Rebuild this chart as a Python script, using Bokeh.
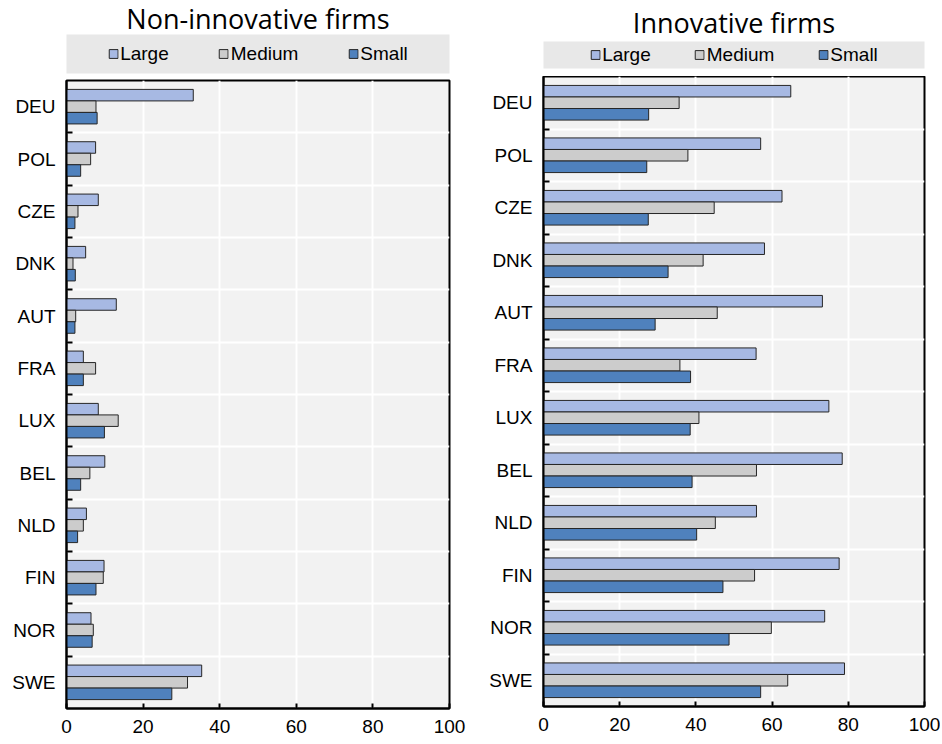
from bokeh.plotting import figure
from bokeh.models import FixedTicker, Range1d, Legend, LegendItem, ColumnDataSource
from bokeh.layouts import row, column
from bokeh.embed import file_html
from bokeh.resources import INLINE
from bokeh.transform import dodge

# ---------------- data ----------------
countries = ["DEU", "POL", "CZE", "DNK", "AUT", "FRA", "LUX", "BEL", "NLD", "FIN", "NOR", "SWE"]
sizes = ["Large", "Medium", "Small"]

non_large = [33.1, 7.6, 8.3, 5.0, 13.0, 4.4, 8.3, 10.0, 5.2, 9.8, 6.4, 35.3]
non_medium = [7.7, 6.3, 3.0, 1.7, 2.4, 7.6, 13.5, 6.1, 4.4, 9.6, 7.0, 31.6]
non_small = [8.0, 3.7, 2.2, 2.3, 2.2, 4.4, 9.9, 3.7, 2.9, 7.7, 6.7, 27.5]

inn_large = [64.9, 57.0, 62.6, 58.0, 73.2, 55.8, 74.9, 78.4, 55.9, 77.6, 73.8, 79.0]
inn_medium = [35.6, 37.9, 44.8, 41.9, 45.6, 35.8, 40.8, 55.9, 45.1, 55.4, 59.8, 64.1]
inn_small = [27.6, 27.1, 27.5, 32.7, 29.3, 38.6, 38.5, 39.0, 40.2, 47.1, 48.7, 57.0]

x_ticks = [0, 20, 40, 60, 80, 100]

# ---------------- styles ----------------
COLORS = {"Large": "#A7B9E3", "Medium": "#CCCCCC", "Small": "#4F81BD"}
OFFSETS = {"Large": -0.22, "Medium": 0.0, "Small": 0.22}
BAR_H = 0.22
EDGE = "#262626"
LABEL_FONT = "Liberation Sans"
LABEL_SIZE = "19px"
TITLE_FONT = "Open Sans"
NAN = float("nan")


def main_fig(large, medium, small, width, height, bl, br, bt, bb):
    n = len(countries)
    pos = list(range(n))
    src = ColumnDataSource(dict(pos=pos, country=countries,
                                Large=large, Medium=medium, Small=small))
    p = figure(width=width, height=height,
               x_range=Range1d(0, 100), y_range=Range1d(n - 0.5, -0.5),
               toolbar_location=None, output_backend="svg",
               min_border_left=bl, min_border_right=br,
               min_border_top=bt, min_border_bottom=bb,
               background_fill_color="#F2F2F2", border_fill_color="white",
               outline_line_color="black", outline_line_width=2)
    for s in sizes:
        p.hbar(y=dodge("pos", OFFSETS[s]), left=0, right=s, height=BAR_H,
               fill_color=COLORS[s], line_color=EDGE, line_width=1, source=src)

    # x axis
    p.xaxis.ticker = FixedTicker(ticks=x_ticks)
    p.xaxis.major_tick_in = 5
    p.xaxis.major_tick_out = 0
    p.xaxis.major_tick_line_color = "black"
    p.xaxis.major_tick_line_width = 2
    p.xaxis.minor_tick_line_color = None
    p.xaxis.axis_line_color = "black"
    p.xaxis.axis_line_width = 2
    p.xaxis.major_label_standoff = 11

    # y axis
    boundaries = [i + 0.5 for i in range(n - 1)]
    p.yaxis.ticker = FixedTicker(ticks=pos, minor_ticks=boundaries)
    p.yaxis.major_label_overrides = {i: c for i, c in enumerate(countries)}
    p.yaxis.major_tick_in = 0
    p.yaxis.major_tick_out = 0
    p.yaxis.minor_tick_in = 6
    p.yaxis.minor_tick_out = 0
    p.yaxis.minor_tick_line_color = "black"
    p.yaxis.minor_tick_line_width = 2
    p.yaxis.axis_line_color = "black"
    p.yaxis.axis_line_width = 2
    p.yaxis.major_label_standoff = 11

    for ax in (p.xaxis, p.yaxis):
        ax.major_label_text_font = LABEL_FONT
        ax.major_label_text_font_size = LABEL_SIZE
        ax.major_label_text_color = "black"

    # grids
    p.xgrid.ticker = FixedTicker(ticks=x_ticks)
    p.ygrid.ticker = FixedTicker(ticks=boundaries)
    p.grid.grid_line_color = "white"
    p.grid.grid_line_width = 2
    return p


def legend_fig(title, width, height, bl, br, bt, bb, title_offset, title_standoff, spacing):
    p = figure(width=width, height=height, x_range=(0, 1), y_range=(0, 1),
               toolbar_location=None, output_backend="svg",
               x_axis_location=None, y_axis_location=None,
               min_border_left=bl, min_border_right=br,
               min_border_top=bt, min_border_bottom=bb,
               background_fill_color="#E8E8E8", border_fill_color="white",
               outline_line_color=None, title=title)
    p.grid.visible = False
    p.title.text_font = TITLE_FONT
    p.title.text_font_size = "27px"
    p.title.text_font_style = "normal"
    p.title.text_color = "black"
    p.title.align = "center"
    p.title.standoff = title_standoff
    p.title.offset = title_offset
    items = []
    for s in sizes:
        # legend-only renderers (nothing drawn in the band itself)
        r = p.hbar(y=[NAN], right=[NAN], left=0, height=0.5,
                   fill_color=COLORS[s], line_color=EDGE, line_width=1)
        items.append(LegendItem(label=s, renderers=[r]))
    leg = Legend(items=items, orientation="horizontal", location="center",
                 background_fill_alpha=0, border_line_color=None,
                 padding=0, margin=0, spacing=spacing, label_width=0,
                 glyph_width=11, glyph_height=11, label_standoff=2,
                 label_text_font=LABEL_FONT, label_text_font_size=LABEL_SIZE,
                 label_text_color="black")
    p.add_layout(leg, "center")
    return p


legL = legend_fig("Non-innovative firms", 470, 76, 60, 15, 33, 3, 0, -5, 49)
mainL = main_fig(non_large, non_medium, non_small, 470, 666, 66, 21, 4, 34)
legR = legend_fig("Innovative firms", 470, 76, 71, 15, 40, 8, -13, 2, 43)
mainR = main_fig(inn_large, inn_medium, inn_small, 470, 666, 73, 16, 0, 36)

layout = row(column(legL, mainL), column(legR, mainR))

with open("out.html", "w") as f:
    f.write(file_html(layout, INLINE, title="Firms"))
